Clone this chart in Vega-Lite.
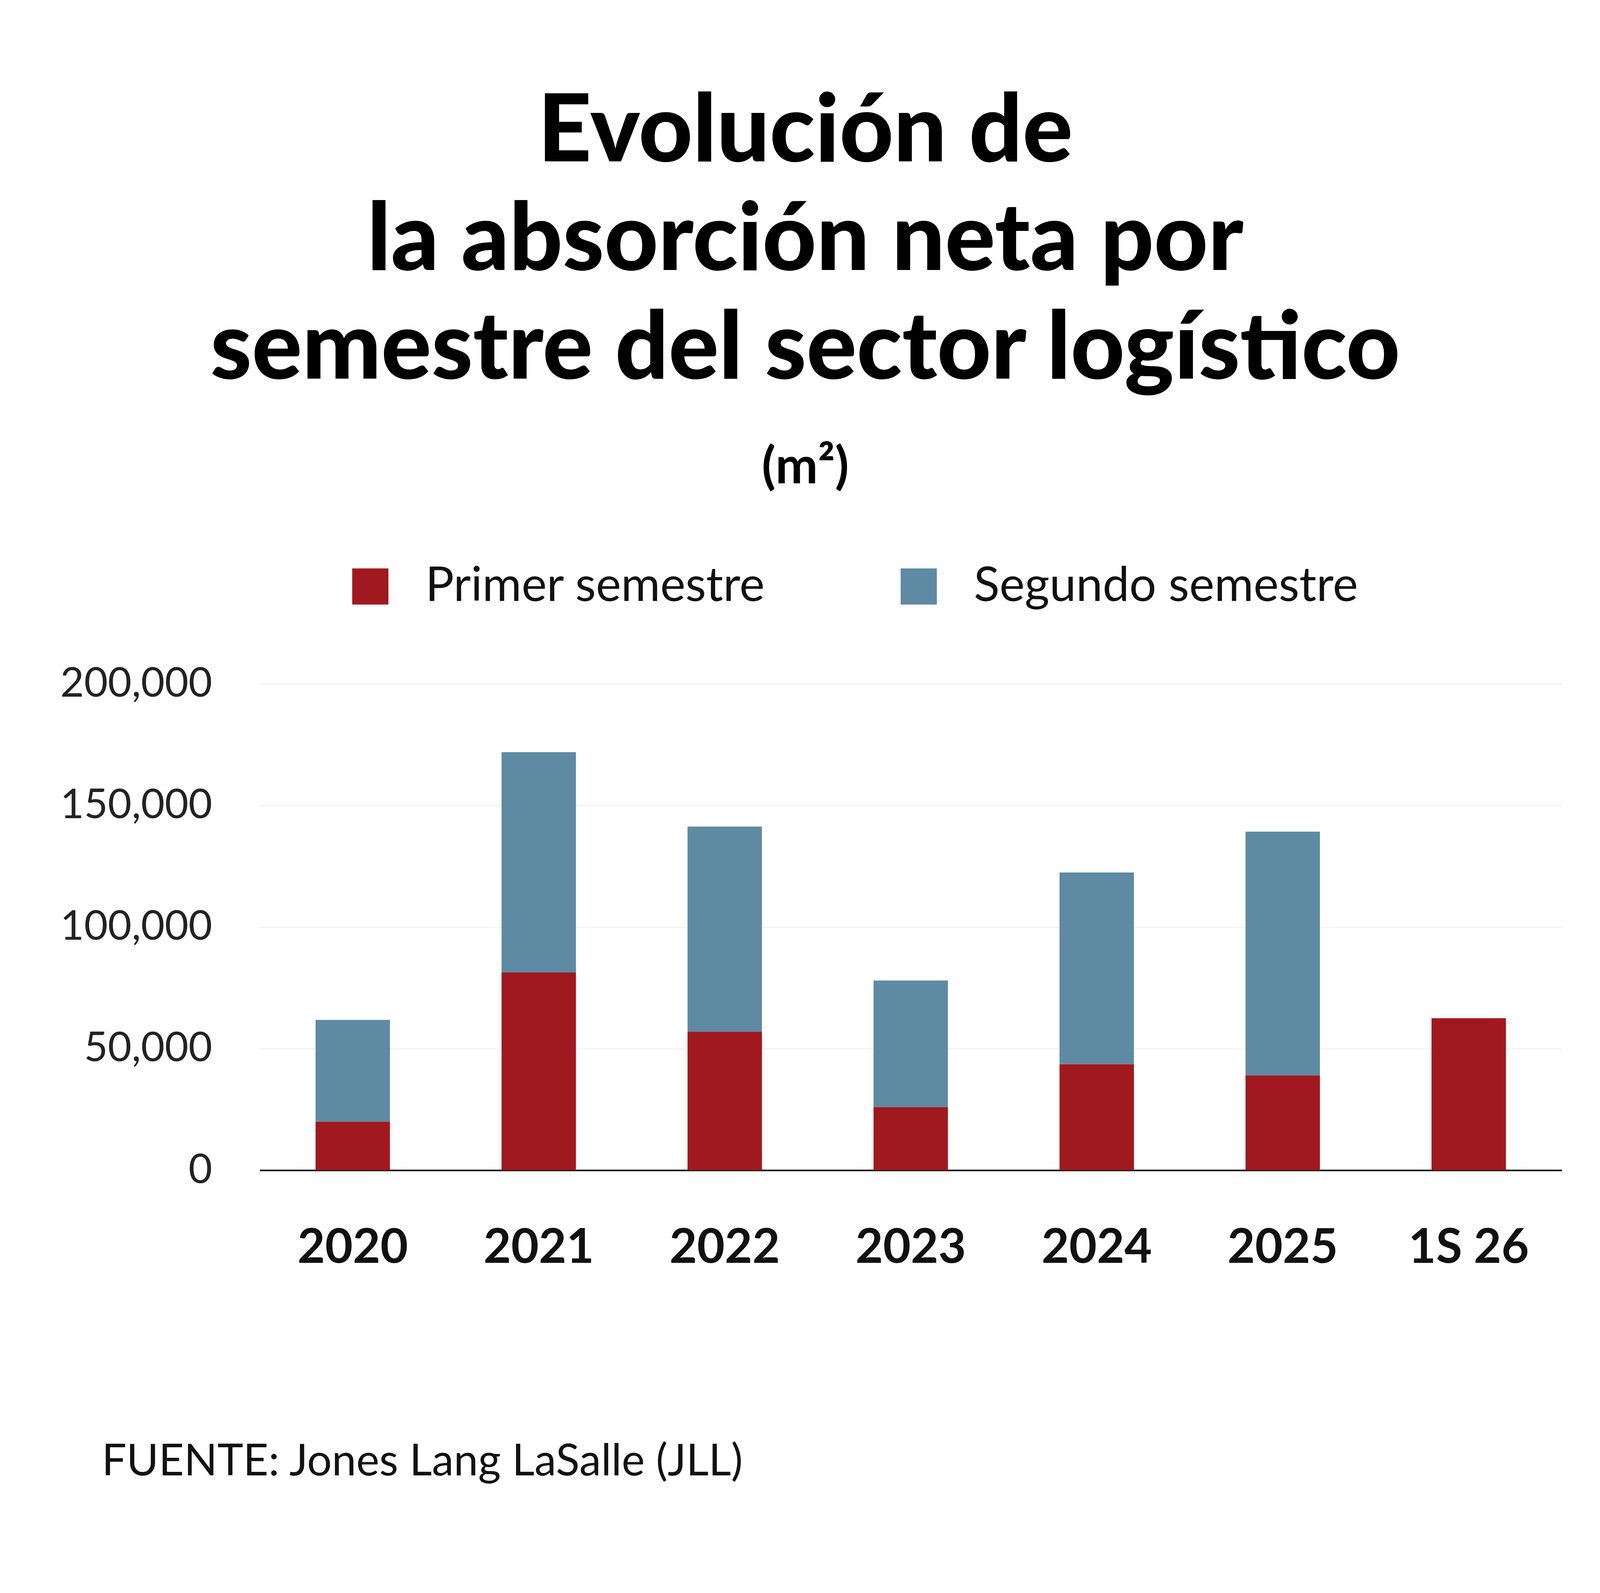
{
  "$schema": "https://vega.github.io/schema/vega-lite/v6.json",
  "autosize": "none",
  "width": 3333,
  "height": 1245,
  "padding": {"left": 665, "top": 1750, "right": 152, "bottom": 1082},
  "background": "white",
  "title": {
    "text": ["Evolución de", "la absorción neta por", "semestre del sector logístico"],
    "subtitle": "(m²)",
    "anchor": "middle",
    "dx": -270,
    "offset": 175,
    "font": "Lato",
    "fontWeight": 900,
    "fontSize": 240,
    "lineHeight": 278,
    "color": "#000000",
    "subtitleFont": "Lato",
    "subtitleFontWeight": 700,
    "subtitleFontSize": 130,
    "subtitlePadding": 115,
    "subtitleColor": "#000000"
  },
  "data": {
    "values": [
      {"periodo": "2020", "serie": "Primer semestre", "orden": 1, "m2": 20000},
      {"periodo": "2020", "serie": "Segundo semestre", "orden": 2, "m2": 41800},
      {"periodo": "2021", "serie": "Primer semestre", "orden": 1, "m2": 81300},
      {"periodo": "2021", "serie": "Segundo semestre", "orden": 2, "m2": 90600},
      {"periodo": "2022", "serie": "Primer semestre", "orden": 1, "m2": 57000},
      {"periodo": "2022", "serie": "Segundo semestre", "orden": 2, "m2": 84300},
      {"periodo": "2023", "serie": "Primer semestre", "orden": 1, "m2": 26000},
      {"periodo": "2023", "serie": "Segundo semestre", "orden": 2, "m2": 52000},
      {"periodo": "2024", "serie": "Primer semestre", "orden": 1, "m2": 43600},
      {"periodo": "2024", "serie": "Segundo semestre", "orden": 2, "m2": 78800},
      {"periodo": "2025", "serie": "Primer semestre", "orden": 1, "m2": 39000},
      {"periodo": "2025", "serie": "Segundo semestre", "orden": 2, "m2": 100200},
      {"periodo": "1S 26", "serie": "Primer semestre", "orden": 1, "m2": 62500}
    ]
  },
  "mark": {"type": "bar"},
  "encoding": {
    "x": {
      "field": "periodo",
      "type": "nominal",
      "sort": null,
      "scale": {"paddingInner": 0.6, "paddingOuter": 0.3},
      "title": "FUENTE: Jones Lang LaSalle (JLL)",
      "axis": {
        "labelAngle": 0,
        "labelFont": "Lato",
        "labelFontWeight": 700,
        "labelFontSize": 122,
        "labelColor": "#111111",
        "labelPadding": 140,
        "labelLimit": 1000,
        "ticks": false,
        "domainColor": "#111111",
        "domainWidth": 4,
        "titleFont": "Lato",
        "titleFontWeight": 400,
        "titleFontSize": 112,
        "titleColor": "#111111",
        "titleAnchor": "start",
        "titleAlign": "left",
        "titleBaseline": "alphabetic",
        "titleX": -405,
        "titleY": 780
      }
    },
    "y": {
      "field": "m2",
      "type": "quantitative",
      "stack": "zero",
      "scale": {"domain": [0, 200000]},
      "title": null,
      "axis": {
        "values": [0, 50000, 100000, 150000, 200000],
        "format": ",.0f",
        "labelFont": "Lato",
        "labelFontSize": 105,
        "labelColor": "#222222",
        "labelPadding": 122,
        "labelLimit": 1000,
        "ticks": false,
        "domain": false,
        "gridColor": "#f2f2f2",
        "gridWidth": 3
      }
    },
    "order": {"field": "orden"},
    "color": {
      "field": "serie",
      "type": "nominal",
      "scale": {"domain": ["Primer semestre", "Segundo semestre"], "range": ["#a0191e", "#5f8aa3"]},
      "legend": {
        "title": null,
        "orient": "none",
        "direction": "horizontal",
        "legendX": 222,
        "legendY": -310,
        "symbolType": "square",
        "symbolSize": 8600,
        "symbolStrokeWidth": 0,
        "labelFont": "Lato",
        "labelFontSize": 122,
        "labelColor": "#111111",
        "labelOffset": 80,
        "columnPadding": 330,
        "labelLimit": 2000
      }
    }
  },
  "config": {"view": {"stroke": null}}
}
